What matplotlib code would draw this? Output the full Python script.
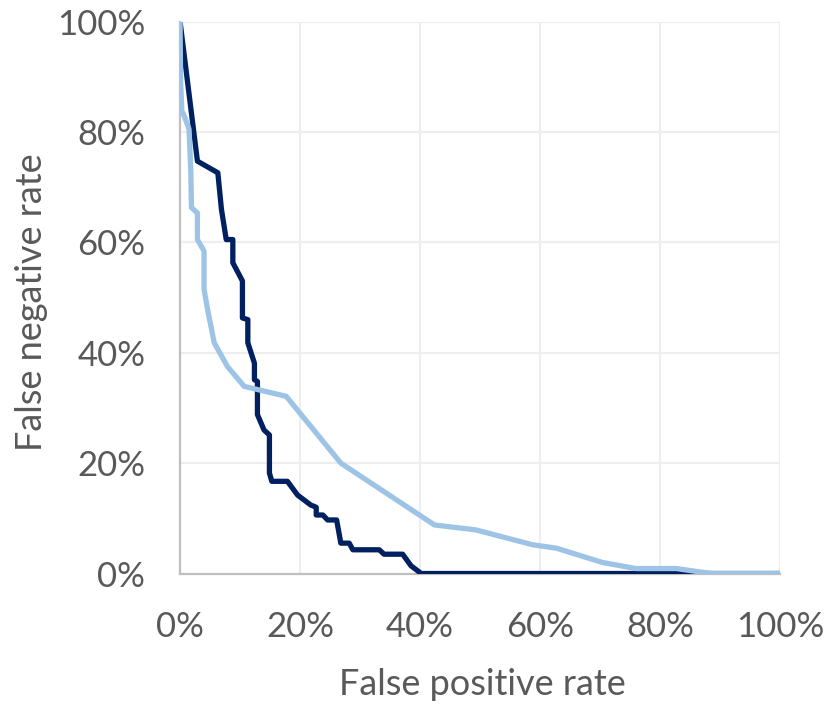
import matplotlib
matplotlib.use("Agg")
import matplotlib.pyplot as plt
from matplotlib.ticker import PercentFormatter

# Series values (percent)
fpr_dark = [0, 2.9, 6.3, 6.4, 6.9, 7.7, 8.8, 8.8, 10.4, 10.4, 11.3, 11.3, 12.4, 12.4, 12.9,
            12.9, 14.0, 14.9, 14.9, 15.3, 17.9, 19.6, 21.8, 22.7, 22.7, 23.8, 24.6, 26.1,
            26.8, 28.2, 28.8, 33.2, 34.0, 37.1, 38.5, 40.2, 100]
fnr_dark = [100, 74.7, 72.6, 71.5, 66, 60.5, 60.5, 56.3, 53, 46.3, 46.0, 41.8, 38.1, 35.1, 34.8,
            28.8, 26.0, 25.1, 18.2, 16.7, 16.7, 14.2, 12.4, 12.0, 10.6, 10.6, 9.7, 9.7,
            5.5, 5.5, 4.3, 4.3, 3.5, 3.5, 1.4, 0, 0]

fpr_light = [0, 0.1, 0.3, 0.7, 1.5, 1.8, 1.9, 2.9, 2.9, 4.0, 4.0, 4.6, 5.7, 7.9, 10.7, 17.7,
             26.8, 42.4, 49.3, 58.8, 62.7, 70.4, 76.0, 82.7, 88.5, 100]
fnr_light = [100, 89, 83.8, 82.9, 80.5, 72.9, 66.3, 65.3, 60.5, 58.4, 51.5, 47.8, 41.8, 37.5,
             33.9, 32.1, 20, 8.8, 7.9, 5.2, 4.6, 2.0, 0.9, 0.9, 0, 0]

x_ticks = [0, 20, 40, 60, 80, 100]
y_ticks = [0, 20, 40, 60, 80, 100]
x_label = 'False positive rate'
y_label = 'False negative rate'

plt.rcParams['font.family'] = ['Lato', 'DejaVu Sans']
text_color = '#595959'

fig = plt.figure(figsize=(8.3, 7.05), dpi=100)
ax = fig.add_axes([0.2169, 0.1865, 0.7229, 0.783])

ax.plot(fpr_dark, fnr_dark, color='#002060', lw=3.8, solid_joinstyle='round',
        solid_capstyle='round', zorder=3)
ax.plot(fpr_light, fnr_light, color='#9DC3E6', lw=3.8, solid_joinstyle='round',
        solid_capstyle='round', zorder=4)

ax.set_xlim(0, 100)
ax.set_ylim(0, 100)
ax.set_xticks(x_ticks)
ax.set_yticks(y_ticks)
ax.xaxis.set_major_formatter(PercentFormatter(decimals=0))
ax.yaxis.set_major_formatter(PercentFormatter(decimals=0))
ax.grid(True, color='#EEEEEE', lw=1.6, zorder=0)
ax.set_axisbelow(True)
for s in ['top', 'right']:
    ax.spines[s].set_visible(False)
for s in ['left', 'bottom']:
    ax.spines[s].set_color('#BFBFBF')
    ax.spines[s].set_linewidth(1.6)
ax.tick_params(length=0, labelsize=25, colors=text_color)
ax.tick_params(axis='x', pad=27)
ax.tick_params(axis='y', pad=25)

fig.text(482 / 830, 1 - 695 / 705, x_label, fontsize=26, color=text_color,
         ha='center', va='baseline')
fig.text(32 / 830, 1 - 302 / 705, y_label, fontsize=26, color=text_color,
         ha='center', va='center', rotation=90)

fig.savefig('out.png', dpi=100)
